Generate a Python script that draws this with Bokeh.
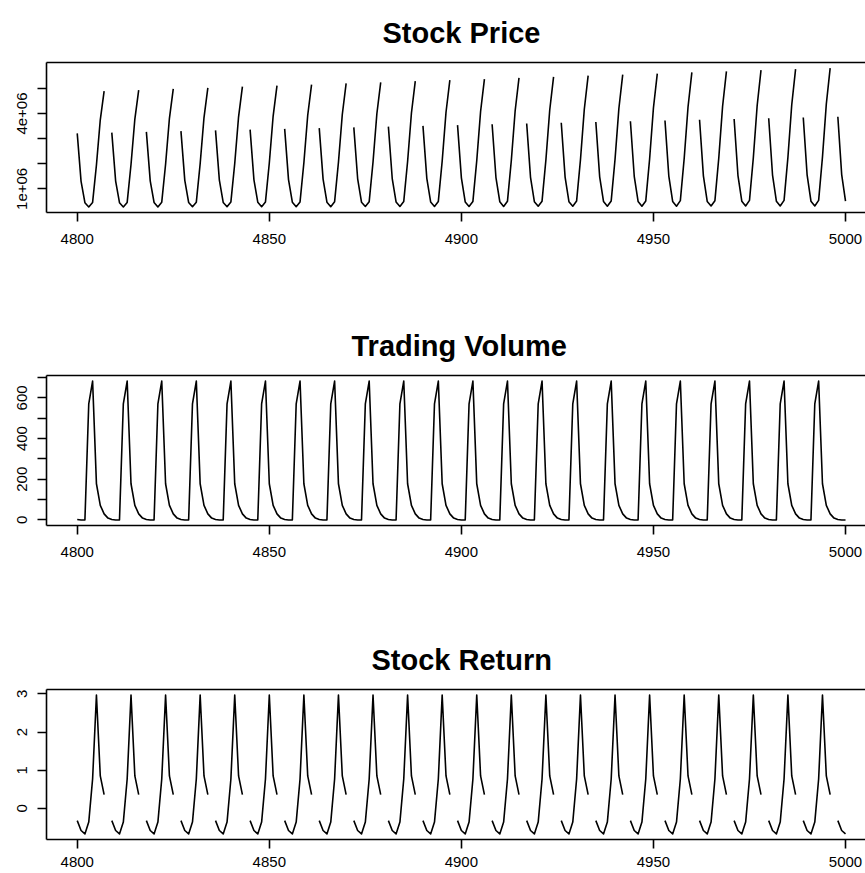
import math
from bokeh.plotting import figure
from bokeh.models import Range1d, FixedTicker, LinearAxis, Title
from bokeh.layouts import column
from bokeh.embed import file_html
from bokeh.resources import INLINE

# ---------------- data ----------------
days = list(range(4800, 5001))

# stock price in millions, one row per 9-day cycle (None = gap)
price_rows = [
    [3.21, 1.30, 0.45, 0.28, 0.46, 1.95, 3.75, 4.89, None],
    [3.24, 1.31, 0.45, 0.28, 0.46, 1.97, 3.78, 4.93, None],
    [3.27, 1.32, 0.46, 0.28, 0.47, 1.98, 3.81, 4.98, None],
    [3.30, 1.34, 0.46, 0.29, 0.47, 2.00, 3.84, 5.02, None],
    [3.33, 1.35, 0.46, 0.29, 0.48, 2.01, 3.87, 5.07, None],
    [3.36, 1.36, 0.47, 0.29, 0.48, 2.03, 3.90, 5.11, None],
    [3.39, 1.37, 0.47, 0.29, 0.48, 2.04, 3.93, 5.15, None],
    [3.42, 1.39, 0.47, 0.29, 0.49, 2.06, 3.96, 5.20, None],
    [3.45, 1.40, 0.47, 0.30, 0.49, 2.07, 3.99, 5.24, None],
    [3.48, 1.41, 0.48, 0.30, 0.50, 2.09, 4.02, 5.29, None],
    [3.51, 1.42, 0.48, 0.30, 0.50, 2.10, 4.05, 5.33, None],
    [3.54, 1.44, 0.48, 0.30, 0.50, 2.12, 4.08, 5.37, None],
    [3.57, 1.45, 0.49, 0.30, 0.51, 2.13, 4.11, 5.42, None],
    [3.60, 1.46, 0.49, 0.31, 0.51, 2.15, 4.14, 5.46, None],
    [3.63, 1.47, 0.49, 0.31, 0.52, 2.16, 4.17, 5.51, None],
    [3.66, 1.48, 0.50, 0.31, 0.52, 2.18, 4.20, 5.55, None],
    [3.69, 1.50, 0.50, 0.31, 0.52, 2.19, 4.23, 5.59, None],
    [3.72, 1.51, 0.50, 0.31, 0.53, 2.21, 4.26, 5.64, None],
    [3.75, 1.52, 0.50, 0.32, 0.53, 2.22, 4.29, 5.68, None],
    [3.78, 1.53, 0.51, 0.32, 0.54, 2.24, 4.32, 5.73, None],
    [3.81, 1.55, 0.51, 0.32, 0.54, 2.25, 4.35, 5.77, None],
    [3.84, 1.56, 0.51, 0.32, 0.54, 2.27, 4.38, 5.81, None],
    [3.87, 1.57, 0.51],
]

volume_rows = [
    [2, 0, 0, 571, 683, 178, 72, 30, 9],
    [2, 0, 0, 571, 683, 178, 72, 30, 9],
    [2, 0, 0, 571, 683, 178, 72, 30, 9],
    [2, 0, 0, 571, 683, 178, 72, 30, 9],
    [2, 0, 0, 571, 683, 178, 72, 30, 9],
    [2, 0, 0, 571, 683, 178, 72, 30, 9],
    [2, 0, 0, 571, 683, 178, 72, 30, 9],
    [2, 0, 0, 571, 683, 178, 72, 30, 9],
    [2, 0, 0, 571, 683, 178, 72, 30, 9],
    [2, 0, 0, 571, 683, 178, 72, 30, 9],
    [2, 0, 0, 571, 683, 178, 72, 30, 9],
    [2, 0, 0, 571, 683, 178, 72, 30, 9],
    [2, 0, 0, 571, 683, 178, 72, 30, 9],
    [2, 0, 0, 571, 683, 178, 72, 30, 9],
    [2, 0, 0, 571, 683, 178, 72, 30, 9],
    [2, 0, 0, 571, 683, 178, 72, 30, 9],
    [2, 0, 0, 571, 683, 178, 72, 30, 9],
    [2, 0, 0, 571, 683, 178, 72, 30, 9],
    [2, 0, 0, 571, 683, 178, 72, 30, 9],
    [2, 0, 0, 571, 683, 178, 72, 30, 9],
    [2, 0, 0, 571, 683, 178, 72, 30, 9],
    [2, 0, 0, 571, 683, 178, 72, 30, 9],
    [2, 0, 0],
]

return_rows = [
    [-0.32, -0.58, -0.67, -0.36, 0.77, 2.97, 0.85, 0.36, None],
    [-0.32, -0.58, -0.67, -0.36, 0.77, 2.97, 0.85, 0.36, None],
    [-0.32, -0.58, -0.67, -0.36, 0.77, 2.97, 0.85, 0.36, None],
    [-0.32, -0.58, -0.67, -0.36, 0.77, 2.97, 0.85, 0.36, None],
    [-0.32, -0.58, -0.67, -0.36, 0.77, 2.97, 0.85, 0.36, None],
    [-0.32, -0.58, -0.67, -0.36, 0.77, 2.97, 0.85, 0.36, None],
    [-0.32, -0.58, -0.67, -0.36, 0.77, 2.97, 0.85, 0.36, None],
    [-0.32, -0.58, -0.67, -0.36, 0.77, 2.97, 0.85, 0.36, None],
    [-0.32, -0.58, -0.67, -0.36, 0.77, 2.97, 0.85, 0.36, None],
    [-0.32, -0.58, -0.67, -0.36, 0.77, 2.97, 0.85, 0.36, None],
    [-0.32, -0.58, -0.67, -0.36, 0.77, 2.97, 0.85, 0.36, None],
    [-0.32, -0.58, -0.67, -0.36, 0.77, 2.97, 0.85, 0.36, None],
    [-0.32, -0.58, -0.67, -0.36, 0.77, 2.97, 0.85, 0.36, None],
    [-0.32, -0.58, -0.67, -0.36, 0.77, 2.97, 0.85, 0.36, None],
    [-0.32, -0.58, -0.67, -0.36, 0.77, 2.97, 0.85, 0.36, None],
    [-0.32, -0.58, -0.67, -0.36, 0.77, 2.97, 0.85, 0.36, None],
    [-0.32, -0.58, -0.67, -0.36, 0.77, 2.97, 0.85, 0.36, None],
    [-0.32, -0.58, -0.67, -0.36, 0.77, 2.97, 0.85, 0.36, None],
    [-0.32, -0.58, -0.67, -0.36, 0.77, 2.97, 0.85, 0.36, None],
    [-0.32, -0.58, -0.67, -0.36, 0.77, 2.97, 0.85, 0.36, None],
    [-0.32, -0.58, -0.67, -0.36, 0.77, 2.97, 0.85, 0.36, None],
    [-0.32, -0.58, -0.67, -0.36, 0.77, 2.97, 0.85, 0.36, None],
    [-0.32, -0.58, -0.67],
]

x_ticks = [4800, 4850, 4900, 4950, 5000]
x_tick_labels = ["4800", "4850", "4900", "4950", "5000"]

price_label_ticks = [1e6, 4e6]
price_tick_labels = ["1e+06", "4e+06"]
price_plain_ticks = [2e6, 3e6, 5e6]

volume_label_ticks = [0, 200, 400, 600]
volume_tick_labels = ["0", "200", "400", "600"]
volume_plain_ticks = [100, 300, 500, 700]

return_label_ticks = [0, 1, 2, 3]
return_tick_labels = ["0", "1", "2", "3"]
return_plain_ticks = []

titles = ["Stock Price", "Trading Volume", "Stock Return"]


def flatten(rows, scale=1.0):
    out = []
    for r in rows:
        for v in r:
            out.append(float("nan") if v is None else v * scale)
    return out


price = flatten(price_rows, 1e6)
volume = flatten(volume_rows)
returns = flatten(return_rows)

FONT = "Liberation Sans"
LW = 1.6
X_START, X_END = 4792, 5005.2


def r_range(vals):
    vv = [v for v in vals if not math.isnan(v)]
    lo, hi = min(vv), max(vv)
    pad = 0.04 * (hi - lo)
    return lo - pad, hi + pad


def style_axis(ax):
    ax.axis_line_color = "black"
    ax.axis_line_width = LW
    ax.major_tick_line_color = "black"
    ax.major_tick_line_width = LW
    ax.major_tick_out = 9
    ax.major_tick_in = 0
    ax.minor_tick_line_color = "black"
    ax.minor_tick_line_width = LW
    ax.minor_tick_out = 9
    ax.minor_tick_in = 0
    ax.major_label_text_font = FONT
    ax.major_label_text_font_size = "15px"
    ax.major_label_text_color = "black"


def panel(title, title_offset, y, lab_ticks, labels, plain_ticks, height, b_bottom, x_standoff):
    lo, hi = r_range(y)
    p = figure(width=865, height=height, title=None,
               x_range=Range1d(X_START, X_END), y_range=Range1d(lo, hi),
               output_backend="svg", toolbar_location=None,
               min_border_left=46, min_border_right=0,
               min_border_top=62, min_border_bottom=b_bottom,
               outline_line_color=None, background_fill_color="white",
               border_fill_color="white")
    p.grid.visible = False
    p.line(days, y, line_color="black", line_width=LW, line_join="round")

    xa = p.xaxis[0]
    ya = p.yaxis[0]
    style_axis(xa)
    style_axis(ya)

    xa.ticker = FixedTicker(ticks=x_ticks, minor_ticks=[])
    xa.major_label_overrides = {t: l for t, l in zip(x_ticks, x_tick_labels)}
    xa.major_label_standoff = x_standoff

    ya.ticker = FixedTicker(ticks=lab_ticks, minor_ticks=plain_ticks)
    ya.major_label_overrides = {t: l for t, l in zip(lab_ticks, labels)}
    ya.major_label_orientation = "vertical"
    ya.major_label_standoff = 10

    # top edge of the box
    top = LinearAxis(ticker=FixedTicker(ticks=[], minor_ticks=[]), axis_line_color="black",
                     axis_line_width=LW, major_tick_out=0, major_tick_in=0,
                     minor_tick_out=0, minor_tick_in=0, major_label_standoff=0)
    p.add_layout(top, "above")

    p.add_layout(Title(text=title, align="left", offset=title_offset, standoff=28,
                       text_font=FONT, text_font_size="29px", text_font_style="bold",
                       text_color="black"), "above")
    return p


p1 = panel(titles[0], 336, price, price_label_ticks, price_tick_labels, price_plain_ticks,
           313, 101, 12)
p2 = panel(titles[1], 305, volume, volume_label_ticks, volume_tick_labels, volume_plain_ticks,
           314, 102, 12)
p3 = panel(titles[2], 325, returns, return_label_ticks, return_tick_labels, return_plain_ticks,
           246, 34, 8)

layout = column(p1, p2, p3, spacing=0)
open("out.html", "w").write(file_html(layout, INLINE))
